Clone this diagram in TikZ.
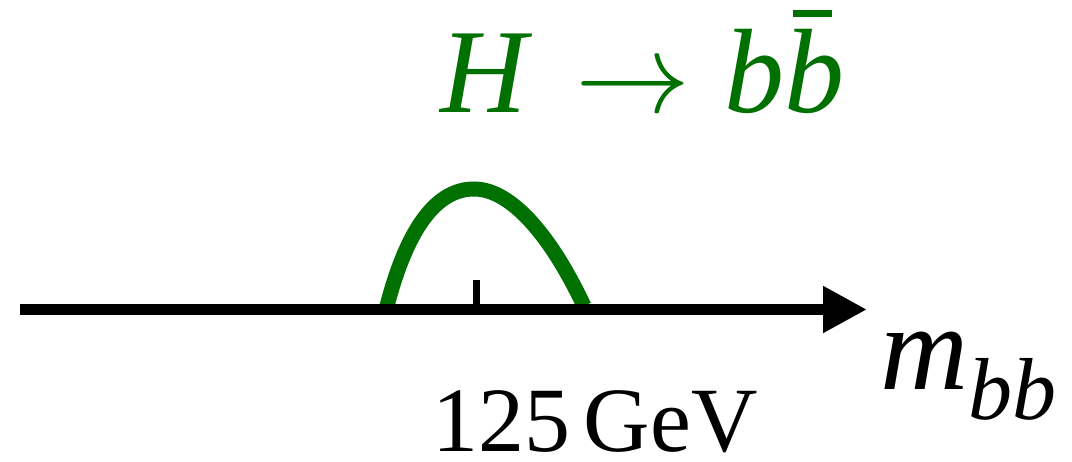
\documentclass[tikz,border=0pt]{standalone}
\usepackage{fontspec}
\setmainfont{LiberationSerif}[Extension=.ttf, UprightFont=*-Regular, ItalicFont=*-Italic, BoldFont=*-Bold, BoldItalicFont=*-BoldItalic]
\usepackage{graphicx}
\usetikzlibrary{arrows.meta}
\definecolor{hgreen}{RGB}{0,112,0}
\tikzset{
  axisline/.style={line width=11pt, -{Triangle[length=44pt,width=44pt]}},
  peak/.style={hgreen, line width=15pt},
  tickmark/.style={line width=7pt},
  lbl/.style={inner sep=0pt, outer sep=0pt}
}
\begin{document}
\begin{tikzpicture}[x=1pt,y=-1pt]
\useasboundingbox (0,0) rectangle (1072,462);
\coordinate (c0) at (387,306);
\coordinate (ctop) at (474,189);
\coordinate (c1) at (584,306);
\draw[peak] (c0) .. controls (408,225) and (438,189) .. (ctop)
  .. controls (512,189) and (552,238) .. (c1);
\coordinate (a0) at (20,309.5);
\coordinate (a1) at (867,309.5);
\draw[axisline] (a0) -- (a1);
\coordinate (t0) at (476,280);
\coordinate (t1) at (476,306);
\draw[tickmark] (t0) -- (t1);
\node[lbl, anchor=base west, text=hgreen] (title) at (440,113)
  {\fontsize{120}{120}\selectfont\textit{H}\hspace{43pt}{\fontsize{10}{12}\selectfont\scalebox{11.5}{$\rightarrow$}}\hspace{34pt}\textit{b}\textit{b}};
\coordinate (bar0) at (793,13.5);
\coordinate (bar1) at (832,13.5);
\draw[hgreen, line width=7pt] (bar0) -- (bar1);
\node[lbl, anchor=base west] (mbb) at (880,390)
  {\fontsize{122}{122}\selectfont\textit{m}\raisebox{-30pt}{\fontsize{88}{88}\selectfont\textit{bb}}};
\node[lbl, anchor=base west] (val) at (432,452)
  {\fontsize{92}{92}\selectfont 125\hspace{14pt}GeV};
\end{tikzpicture}
\end{document}
